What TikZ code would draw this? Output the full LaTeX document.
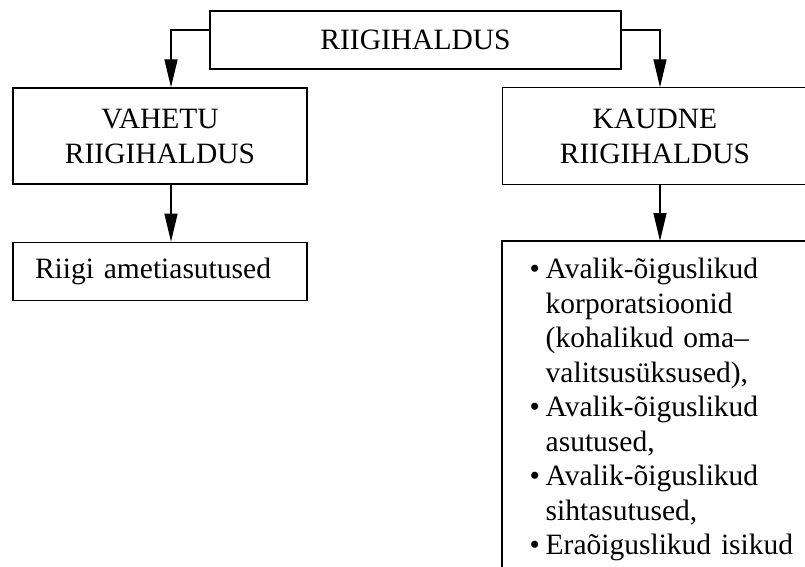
\documentclass[tikz,border=0pt]{standalone}
\usepackage{fontspec}
\setmainfont{Liberation Serif}
\usetikzlibrary{positioning, arrows.meta}

\newcommand{\blt}{\makebox[16pt][l]{\textbullet}}

\begin{document}
\begin{tikzpicture}[x=1pt, y=1pt, line width=1.4pt, node distance=57pt,
    kast/.style={draw, rectangle, inner sep=0pt, align=center,
      font=\fontsize{29.5}{35}\selectfont},
    lahtine/.style={kast, draw=none},
    pil/.style={-{Triangle[length=28pt,width=13pt]}}]
  \useasboundingbox (0,0) rectangle (805,566);

  \node[kast, minimum width=411pt, minimum height=58pt] (riik) at (415.5,526) {RIIGIHALDUS};
  \node[kast, minimum width=294pt, minimum height=96pt] (vahetu) at (160,430) {VAHETU\\RIIGIHALDUS};
  \node[lahtine, minimum width=304pt, minimum height=96pt] (kaudne) at (655,430) {KAUDNE\\RIIGIHALDUS};
  \node[kast, minimum height=58pt, text width=250pt, inner xsep=22pt, align=left] (amet) [below=of vahetu] {Riigi ametiasutused};
  \node[lahtine, minimum width=303pt, minimum height=330pt, anchor=north west] (kaudlist) at (502,325) {};
  \node[inner sep=0pt, text width=290pt, align=left, anchor=north west,
    font=\fontsize{29.5}{34.5}\selectfont] (loend) at (529,312.15)
    {\strut\blt Avalik-õiguslikud\\
     \hspace*{16pt}korporatsioonid\\
     \hspace*{16pt}(kohalikud oma–\\
     \hspace*{16pt}valitsusüksused),\\
     \blt Avalik-õiguslikud\\
     \hspace*{16pt}asutused,\\
     \blt Avalik-õiguslikud\\
     \hspace*{16pt}sihtasutused,\\
     \blt Eraõiguslikud isikud};

  % paremal lõigatud kastid
  \draw (kaudne.north east) -- (kaudne.north west) -- (kaudne.south west) -- (kaudne.south east);
  \draw (kaudlist.north east) -- (kaudlist.north west) -- (kaudlist.south west);

  % noolte read
  \draw[pil] ([yshift=10pt]riik.west) -| ([xshift=11pt]vahetu.north);
  \draw[pil] ([yshift=10pt]riik.east) -| ([xshift=5pt]kaudne.north);
  \draw[pil] ([xshift=11pt]vahetu.south) -- ([xshift=11pt]amet.north);
  \draw[pil] ([xshift=5pt]kaudne.south) -- ([xshift=5pt]kaudne.south |- kaudlist.north);

\end{tikzpicture}
\end{document}
